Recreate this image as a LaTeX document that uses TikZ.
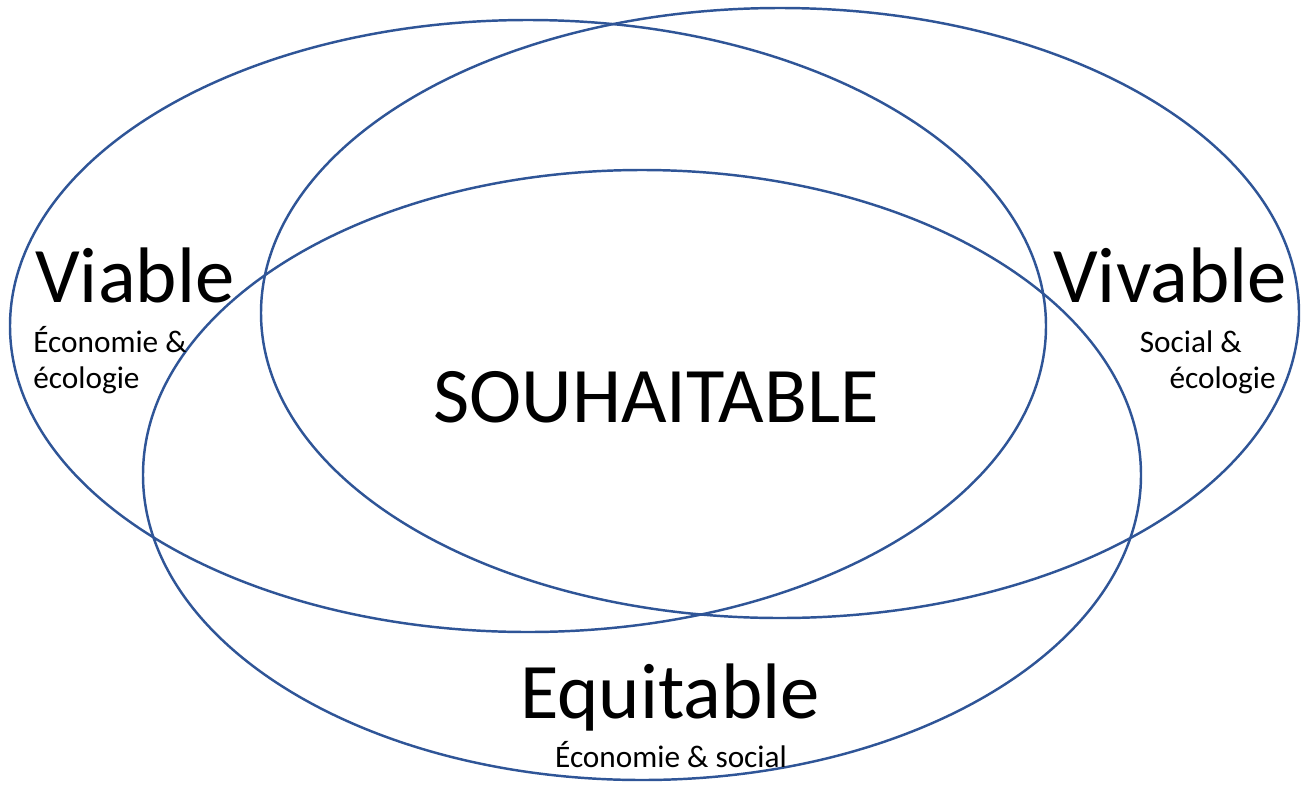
\documentclass[tikz,border=0pt]{standalone}
\usepackage{fontspec}
\setmainfont{Carlito}
\usepackage{tikz}
\definecolor{RingBlue}{RGB}{47,85,151}

\begin{document}
\begin{tikzpicture}[
 x=0.02cm, y=-0.02cm,
 ring/.style={draw=RingBlue, line width=1.4pt},
 big/.style={font=\fontsize{44.8}{50}\selectfont, inner sep=0pt},
 small/.style={font=\fontsize{17.8}{20}\selectfont, inner sep=0pt}
]
\useasboundingbox (0,0) rectangle (1306,785);
% the three circles
\draw[ring] (528,326) ellipse [x radius=518, y radius=306];
\draw[ring] (780,313) ellipse [x radius=519, y radius=305];
\draw[ring] (642,475) ellipse [x radius=499, y radius=305];

\node[big, anchor=base west]   (viable)  at (35,302)   {Viable};
\node[small, anchor=base west] (viaeco)  at (33,352)   {Économie \&};
\node[small, anchor=base west] (viaeco2) at (33,388)   {écologie};
\node[big, anchor=base west]   (vivable) at (1053,302) {Vivable};
\node[small, anchor=base east] (vivsoc)  at (1242,352) {Social \&};
\node[small, anchor=base east] (vivsoc2) at (1276,388) {écologie};
\node[big, anchor=base]        (souhait) at (656,422)  {SOUHAITABLE};
\node[big, anchor=base]        (equi)    at (670,718)  {Equitable};
\node[small, anchor=base]      (equisoc) at (671,767)  {Économie \& social};
\end{tikzpicture}
\end{document}
